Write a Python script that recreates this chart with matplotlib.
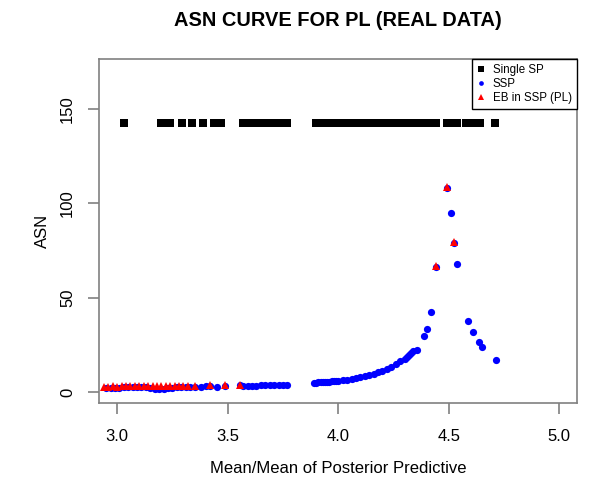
import numpy as np
import matplotlib
matplotlib.use("Agg")
import matplotlib.pyplot as plt

plt.rcParams['font.family'] = ['Liberation Sans', 'DejaVu Sans']

# Single SP (all at the same ASN)
single_x = [3.033, 3.20, 3.22, 3.24, 3.295, 3.338, 3.388, 3.44, 3.47,
            3.57, 3.59, 3.61, 3.63, 3.65, 3.67, 3.69, 3.71, 3.73, 3.75, 3.77,
            3.90, 3.92, 3.94, 3.96, 3.98, 4.00, 4.02, 4.04, 4.06, 4.08, 4.10,
            4.12, 4.14, 4.16, 4.18, 4.20, 4.22, 4.24, 4.26, 4.28, 4.30, 4.32,
            4.34, 4.36, 4.38, 4.40, 4.42, 4.44, 4.49, 4.51, 4.537,
            4.58, 4.60, 4.62, 4.64, 4.71]
single_asn = 142.5

# SSP
ssp_x = [2.95, 2.97, 2.99, 3.01, 3.03, 3.05, 3.07, 3.09, 3.11, 3.13, 3.15,
         3.17, 3.19, 3.21, 3.23, 3.25, 3.27, 3.29, 3.31, 3.33, 3.35, 3.38,
         3.40, 3.42, 3.45, 3.49, 3.556, 3.57, 3.59, 3.61, 3.63, 3.65, 3.67,
         3.69, 3.71, 3.73, 3.75, 3.77,
         3.89, 3.90, 3.91, 3.92, 3.93, 3.94, 3.95, 3.96, 3.97, 3.98, 3.99,
         4.00, 4.02, 4.04, 4.06, 4.08, 4.10, 4.12, 4.14, 4.16, 4.18, 4.20,
         4.22, 4.24, 4.26, 4.28, 4.30, 4.31, 4.32, 4.33, 4.34, 4.357, 4.39,
         4.40, 4.42, 4.44, 4.49, 4.508, 4.523, 4.535, 4.587, 4.611, 4.637,
         4.65, 4.715]
ssp_y = [2.3, 2.4, 2.5, 2.5, 2.6, 2.6, 2.6, 2.7, 2.7, 2.6, 2.5,
         1.8, 1.6, 1.7, 2.0, 2.4, 2.6, 2.7, 2.8, 2.9, 3.0, 3.0,
         3.2, 3.2, 2.8, 3.5, 3.6, 3.2, 3.3, 3.4, 3.5, 3.6, 3.6,
         3.7, 3.8, 3.9, 3.9, 4.0,
         5.0, 5.1, 5.2, 5.3, 5.3, 5.4, 5.5, 5.6, 5.7, 5.8, 5.9,
         6.0, 6.3, 6.6, 7.0, 7.4, 7.9, 8.4, 9.0, 9.7, 10.5, 11.3,
         12.3, 13.5, 14.8, 16.3, 17.8, 18.8, 19.8, 20.8, 21.8, 22.6, 29.8,
         33.6, 42.3, 66.5, 108.3, 95.1, 79.2, 67.8, 37.9, 32.1, 26.5,
         23.8, 17.1]

# EB in SSP (PL)
eb_x = [2.94, 2.96, 2.98, 3.00, 3.02, 3.04, 3.06, 3.08, 3.10, 3.12, 3.14,
        3.16, 3.18, 3.20, 3.22, 3.24, 3.26, 3.28, 3.30, 3.32, 3.35,
        3.42, 3.49, 3.556, 4.44, 4.49, 4.523]
eb_y = [2.9, 3.0, 3.1, 3.0, 3.2, 3.1, 3.2, 3.3, 3.2, 3.3, 3.2,
        3.3, 3.2, 3.1, 3.3, 3.2, 3.3, 3.1, 3.3, 3.2, 3.3,
        3.6, 4.0, 3.9, 66.7, 108.6, 79.5]

fig = plt.figure(figsize=(5.9, 4.87), dpi=100)
ax = fig.add_axes([0.1686, 0.1725, 0.8094, 0.7064])

ax.plot(single_x, [single_asn] * len(single_x), 's', color='black', ms=5.6,
        mew=0, label='Single SP')
ax.plot(ssp_x, ssp_y, 'o', color='blue', ms=5.2, mew=0, label='SSP')
ax.plot(eb_x, eb_y, '^', color='red', ms=6.3, mew=0, label='EB in SSP (PL)')

ax.set_xlim(2.92, 5.08)
ax.set_ylim(-5.7, 176.4)
ax.set_xticks([3.0, 3.5, 4.0, 4.5, 5.0])
ax.set_xticklabels(['3.0', '3.5', '4.0', '4.5', '5.0'])
ax.set_yticks([0, 50, 100, 150])
for lab in ax.get_yticklabels():
    lab.set_rotation(90)
    lab.set_va('center')

for sp in ax.spines.values():
    sp.set_color('#808080')
    sp.set_linewidth(1.2)
ax.tick_params(direction='out', length=8, width=1.2, color='#808080',
               labelsize=12, pad=9.5)
ax.tick_params(axis='x', pad=11)

ax.set_title('ASN CURVE FOR PL (REAL DATA)', fontsize=14.4,
             fontweight='bold', pad=24)
ax.set_xlabel('Mean/Mean of Posterior Predictive', fontsize=12, labelpad=12)
ax.set_ylabel('ASN', fontsize=12, labelpad=7)

leg = ax.legend(loc='upper right', fontsize=8.3, markerscale=0.65,
                fancybox=False, edgecolor='black', borderaxespad=0,
                handlelength=0.8, handletextpad=0.6, labelspacing=0.15,
                borderpad=0.45, framealpha=1)
leg.get_frame().set_linewidth(1.0)

fig.savefig('out.png', dpi=100)
